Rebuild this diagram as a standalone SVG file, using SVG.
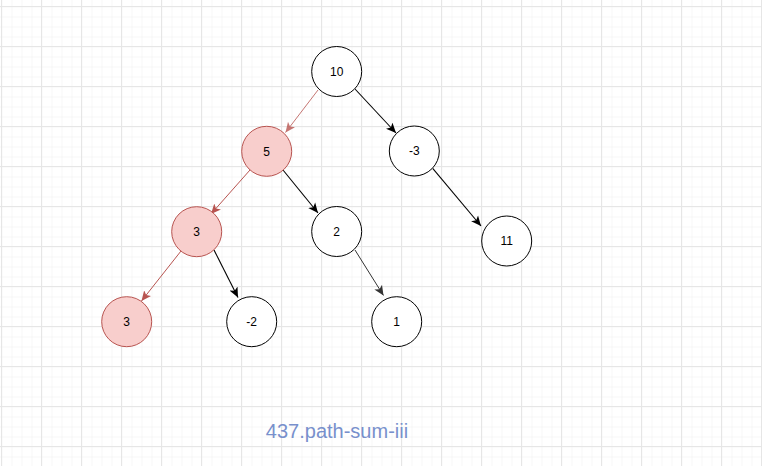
<svg xmlns="http://www.w3.org/2000/svg" width="762" height="466" viewBox="0 0 762 466">
<defs>
<pattern id="minor" width="10" height="10" patternUnits="userSpaceOnUse" x="1.5" y="6.5">
<path d="M0 0.5 H10 M0.5 0 V10" fill="none" stroke="#f6f6f6" stroke-width="1"/>
</pattern>
<pattern id="major" width="40" height="40" patternUnits="userSpaceOnUse" x="1" y="6">
<path d="M0 0.5 H40 M0.5 0 V40" fill="none" stroke="#e6e6e6" stroke-width="1"/>
</pattern>
<marker id="ab" viewBox="0 0 10 10" refX="10" refY="5" markerWidth="10" markerHeight="10" markerUnits="userSpaceOnUse" orient="auto">
<path d="M0 0.5 L10 5 L0 9.5 L2.5 5 Z" fill="#000"/>
</marker>
<marker id="ag" viewBox="0 0 10 10" refX="10" refY="5" markerWidth="10" markerHeight="10" markerUnits="userSpaceOnUse" orient="auto">
<path d="M0 0.5 L10 5 L0 9.5 L2.5 5 Z" fill="#333"/>
</marker>
<marker id="ar" viewBox="0 0 10 10" refX="10" refY="5" markerWidth="10" markerHeight="10" markerUnits="userSpaceOnUse" orient="auto">
<path d="M0 0.5 L10 5 L0 9.5 L2.5 5 Z" fill="#b85450"/>
</marker>
</defs>
<style>
.n circle{fill:#fff;stroke:#000;stroke-width:1}
.r circle{fill:#f8cecc;stroke:#b85450;stroke-width:1}
.n text,.r text{font-family:"Liberation Sans",Arial,sans-serif;font-size:12px;fill:#000;text-anchor:middle}
.e{fill:none;stroke:#000;stroke-width:1.1}
.er{fill:none;stroke:#b85450;stroke-width:1}
.eg{fill:none;stroke:#333;stroke-width:1}
.title{font-family:"Liberation Sans",Arial,sans-serif;font-size:20px;fill:#7890cc;text-anchor:middle}
</style>
<rect width="762" height="466" fill="#fff"/>
<rect width="762" height="466" fill="url(#minor)"/>
<rect width="762" height="466" fill="url(#major)"/>
<g id="edges">
<line class="er" x1="318" y1="90" x2="285.5" y2="132.5" marker-end="url(#ar)" opacity="0.8"/>
<line class="e" x1="355" y1="89" x2="396" y2="133" marker-end="url(#ab)"/>
<line class="er" x1="250" y1="170" x2="211" y2="214" marker-end="url(#ar)"/>
<line class="e" x1="283" y1="170" x2="318" y2="213" marker-end="url(#ab)"/>
<line class="er" x1="181" y1="251" x2="141.5" y2="301" marker-end="url(#ar)"/>
<line class="e" x1="214" y1="250" x2="238" y2="297.5" marker-end="url(#ab)"/>
<line class="eg" x1="355" y1="250" x2="383.5" y2="295.5" marker-end="url(#ag)"/>
<line class="e" x1="432.7" y1="168.3" x2="481" y2="226" marker-end="url(#ab)"/>
</g>
<g id="n10" class="n"><circle cx="336.7" cy="71.5" r="25"/><text x="336.7" y="75.8">10</text></g>
<g id="n5" class="r"><circle cx="266.7" cy="151.3" r="25"/><text x="266.7" y="155.6">5</text></g>
<g id="nm3" class="n"><circle cx="414.3" cy="151" r="25"/><text x="414.3" y="155.3">-3</text></g>
<g id="n3a" class="r"><circle cx="196.7" cy="231.7" r="25"/><text x="196.7" y="236">3</text></g>
<g id="n2" class="n"><circle cx="336.7" cy="231.5" r="25"/><text x="336.7" y="235.8">2</text></g>
<g id="n11" class="n"><circle cx="506.7" cy="241" r="25"/><text x="506.7" y="245.3">11</text></g>
<g id="n3b" class="r"><circle cx="126.7" cy="321.7" r="25"/><text x="126.7" y="326">3</text></g>
<g id="nm2" class="n"><circle cx="251.7" cy="321.7" r="25"/><text x="251.7" y="326">-2</text></g>
<g id="n1" class="n"><circle cx="396.7" cy="321.7" r="25"/><text x="396.7" y="326">1</text></g>
<text class="title" x="337" y="438">437.path-sum-iii</text>
</svg>
